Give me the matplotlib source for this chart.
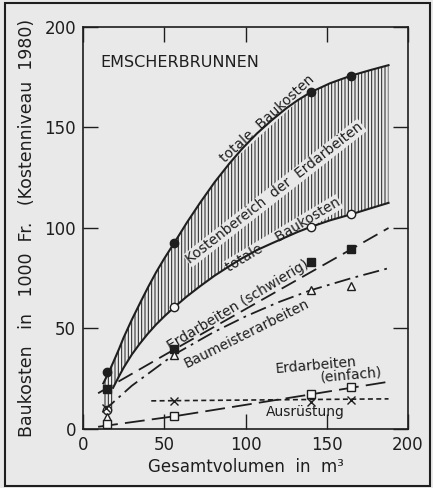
import matplotlib
matplotlib.use("Agg")
import matplotlib.pyplot as plt
from matplotlib.patches import Rectangle

plt.rcParams['font.family'] = ['DejaVu Sans']
plt.rcParams['hatch.linewidth'] = 0.7

INK = '#1e1e1e'
PAPER = '#e9e9e9'

# --- data (volume in m3, cost in 1000 Fr.) ---
# curve x grid shared by both "totale Baukosten" curves
curve_x = [12.5, 16, 18.5, 22, 25, 30, 35, 40, 45, 50, 56, 64, 72, 81, 90,
           98, 107, 116, 125, 132, 140, 152, 165, 177, 188]
total_high = [22.7, 28.5, 33, 39.5, 45.5, 54.3, 62.5, 70.5, 78, 84.8, 92.4, 102.8,
              112.5, 122.8, 132, 139.5, 147, 153.5, 159.5, 163.5, 167.5, 172, 175.8,
              178.6, 181]
total_low = [None, None, 20.5, 26, 30.5, 37, 42.5, 47.5, 52, 56, 60.5, 66,
             71, 76.3, 81, 85, 89, 92.3, 95.5, 98, 100.5, 103.8, 106.8,
             109.8, 112.5]
range_foot = 9  # lower end of hatched range at the smallest well

# measured points
pts_x = [15, 56, 140, 165]
pts_total_high = [28.5, 92.4, 167.5, 175.8]
pts_total_low = [9.5, 60.5, 100.5, 106.8]
pts_erd_schwierig = [20, 40, 83, 89.4]
pts_baumeister = [6, 37, 69, 71]
pts_erd_einfach = [2.3, 6.3, 17.2, 20.7]
pts_ausruestung_x = [14, 56, 140, 165]
pts_ausruestung = [10.5, 13.8, 13.6, 14.4]

# fitted lines
erd_schwierig_x = [9.3, 56, 165, 188]
erd_schwierig_y = [17.8, 39.5, 89.4, 100]
baumeister_x = [12, 30, 56, 80, 100, 120, 140, 165, 188]
baumeister_y = [8.5, 21.5, 37, 48, 56, 63, 69, 75, 80]
erd_einfach_x = [9.3, 56, 140, 165, 188]
erd_einfach_y = [1.1, 6.3, 17.2, 20.5, 23.5]
ausruestung_x = [42, 188]
ausruestung_y = [14, 15]

fig = plt.figure(figsize=(4.33, 4.88), dpi=100, facecolor=PAPER)
ax = fig.add_axes([0.1917, 0.1209, 0.7506, 0.8238])
ax.set_facecolor(PAPER)

# hatched cost range for earthworks
ax.fill_between(curve_x[2:], total_low[2:], total_high[2:], facecolor='none',
                edgecolor=INK, hatch='|||||', linewidth=0, zorder=1)
ax.fill_between(curve_x[:3], [range_foot] * 3, total_high[:3], facecolor='none',
                edgecolor=INK, hatch='|||||', linewidth=0, zorder=1)

ax.plot(curve_x, total_high, color=INK, lw=1.5)
ax.plot(curve_x[2:], total_low[2:], color=INK, lw=1.5)
ax.plot(erd_schwierig_x, erd_schwierig_y, color=INK, lw=1.3, dashes=(9, 4))
ax.plot(baumeister_x, baumeister_y, color=INK, lw=1.3, dashes=(9, 3, 1.5, 3))
ax.plot(erd_einfach_x, erd_einfach_y, color=INK, lw=1.3, dashes=(11, 4))
ax.plot(ausruestung_x, ausruestung_y, color=INK, lw=1.2, dashes=(3, 2))

ms = 6
ax.plot(pts_x, pts_total_high, 'o', ms=ms, color=INK, zorder=4)
ax.plot(pts_x, pts_total_low, 'o', ms=ms, mfc='#f7f7f7', mec=INK, mew=1, zorder=4)
ax.plot(pts_x, pts_erd_schwierig, 's', ms=ms, color=INK, zorder=4)
ax.plot(pts_x, pts_baumeister, '^', ms=ms, mfc='#f7f7f7', mec=INK, mew=1, zorder=4)
ax.plot(pts_x, pts_erd_einfach, 's', ms=ms, mfc='#f7f7f7', mec=INK, mew=1, zorder=4)
ax.plot(pts_ausruestung_x, pts_ausruestung, 'x', ms=ms, color=INK, mew=1, zorder=4)

# labels along the curves (paper box clears the hatching behind them)
lab = dict(color=INK, ha='center', va='center', rotation_mode='anchor',
           fontsize=10, zorder=1.5)
box = dict(facecolor=PAPER, edgecolor='none', pad=0.6)
ax.text(113.5, 154.5, 'totale  Baukosten', rotation=42.5, bbox=box, **lab)
ax.text(118, 117.4, 'Kostenbereich  der  Erdarbeiten', rotation=38, bbox=box, **lab)
ax.text(123, 96.5, 'totale    Baukosten', rotation=31, bbox=box, **lab)
ax.text(95.6, 61.7, 'Erdarbeiten (schwierig)', rotation=31, **lab)
ax.text(100.7, 47.6, 'Baumeisterarbeiten', rotation=26.5, **lab)
ax.text(143.4, 31.8, 'Erdarbeiten', rotation=5, **lab)
ax.text(165, 26.9, '(einfach)', rotation=5, **lab)
ax.text(137, 8.5, 'Ausrüstung', **lab)
ax.text(10.5, 182.5, 'EMSCHERBRUNNEN', color=INK, ha='left', va='center', fontsize=11.5)

ax.set_xlim(0, 200)
ax.set_ylim(0, 200)
ticks = [0, 50, 100, 150, 200]
ax.set_xticks(ticks)
ax.set_yticks(ticks)
ax.tick_params(direction='in', length=11, width=1, color=INK, labelcolor=INK,
               labelsize=12, top=True, right=True, pad=5)
for s in ax.spines.values():
    s.set_color(INK)
    s.set_linewidth(1.2)

ax.set_xlabel('Gesamtvolumen  in  m³', fontsize=12, color=INK, labelpad=3)
ax.set_ylabel('Baukosten   in   1000  Fr.   (Kostenniveau  1980)', fontsize=12.5,
              color=INK, labelpad=6)

fig.patches.append(Rectangle((0.0115, 0.004), 0.9815, 0.99, transform=fig.transFigure,
                             fill=False, edgecolor=INK, lw=1.5))

fig.savefig('out.png', dpi=100, facecolor=PAPER)
